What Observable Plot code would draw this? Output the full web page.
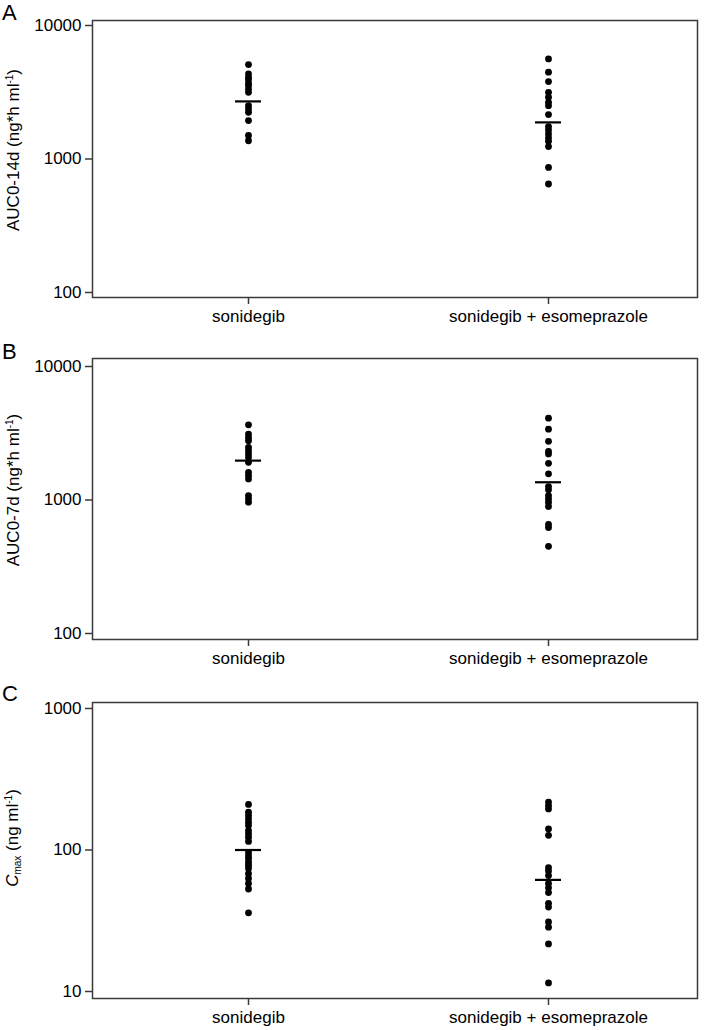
<!DOCTYPE html>
<html><head><meta charset="utf-8">
<script src="https://cdn.jsdelivr.net/npm/d3@7"></script>
<script src="https://cdn.jsdelivr.net/npm/@observablehq/plot@0.6"></script>
<style>
body{margin:0;background:#fff;font-family:"Liberation Sans",Arial,sans-serif;color:#000;}
#fig{position:relative;width:709px;height:1030px;overflow:hidden;}
.panel{position:absolute;left:0;}
.letter{position:absolute;left:2px;font-size:22px;line-height:1;}
.ylab{position:absolute;left:13px;transform:translate(-50%,-50%) rotate(-90deg);white-space:nowrap;font-size:17px;line-height:1;}
.ylab sup{font-size:10px;vertical-align:6px;}
.ylab sub{font-size:10px;vertical-align:-3px;}
</style>
</head><body>
<div id="fig"></div>
<script>
const categories = ["sonidegib", "sonidegib + esomeprazole"];

// Panel A: AUC0-14d (ng*h/ml)
const aSon = [5100, 4340, 4090, 3915, 3690, 3550, 3350, 3160, 2510, 2370, 2240, 1940, 1500, 1370];
const aEso = [5620, 4470, 3800, 3160, 2900, 2660, 2510, 2150, 1750, 1650, 1540, 1440, 1360, 1240, 865, 650];
const aMed = [2700, 1880];
const aTicks = [100, 1000, 10000];

// Panel B: AUC0-7d (ng*h/ml)
const bSon = [3655, 3120, 2943, 2780, 2478, 2340, 2212, 2085, 1915, 1611, 1524, 1439, 1080, 1021, 963];
const bEso = [4100, 3395, 2750, 2313, 2212, 1883, 1570, 1261, 1192, 1080, 1021, 963, 894, 656, 621, 450];
const bMed = [1972, 1358];
const bTicks = [100, 1000, 10000];

// Panel C: Cmax (ng/ml)
const cSon = [210, 185, 175, 166, 157, 149, 137, 130, 123, 115, 96, 91, 87, 82, 78, 74, 68, 63, 58, 53, 36];
const cEso = [218, 206, 195, 141, 127, 75, 71, 66, 58, 54, 50, 42, 39.5, 31, 28.5, 21.7, 11.5];
const cMed = [100, 61.5];
const cTicks = [10, 100, 1000];

const fig = document.getElementById("fig");

function panel({son, eso, med, ticks, top, inner, insetTop, insetBottom, letter, letterTop, labelHTML, labelY}) {
  const pts = [...son.map(v => ({g: categories[0], v})), ...eso.map(v => ({g: categories[1], v}))];
  const meds = med.map((v, i) => ({g: categories[i], v}));
  const marginTop = 20, marginBottom = 32;
  const chart = Plot.plot({
    width: 709, height: marginTop + inner + marginBottom,
    marginLeft: 92, marginRight: 12, marginTop, marginBottom,
    style: {fontSize: "17px", fontFamily: "'Liberation Sans', Arial, sans-serif", color: "#000", background: "#fff", overflow: "visible"},
    x: {type: "band", domain: categories, paddingInner: 0.9136, paddingOuter: 0, insetLeft: 142, insetRight: 136, label: null},
    y: {type: "log", domain: [ticks[0], ticks[ticks.length - 1]], insetTop, insetBottom, label: null},
    marks: [
      Plot.frame({stroke: "#3a3a3a", strokeWidth: 1.5}),
      Plot.axisY({ticks, tickFormat: d => String(d), tickSize: 7, tickPadding: 4, label: null, stroke: "#3a3a3a", strokeWidth: 1.5}),
      Plot.axisX({tickSize: 7, tickPadding: 5, label: null, stroke: "#3a3a3a", strokeWidth: 1.5}),
      Plot.dot(pts, {x: "g", y: "v", r: 3.4, fill: "#000"}),
      Plot.tickY(meds, {x: "g", y: "v", stroke: "#000", strokeWidth: 2.2})
    ]
  });
  const wrap = document.createElement("div");
  wrap.className = "panel";
  wrap.style.top = top + "px";
  wrap.appendChild(chart);
  fig.appendChild(wrap);
  const L = document.createElement("div");
  L.className = "letter"; L.textContent = letter; L.style.top = letterTop + "px";
  fig.appendChild(L);
  const Y = document.createElement("div");
  Y.className = "ylab"; Y.innerHTML = labelHTML; Y.style.top = labelY + "px";
  fig.appendChild(Y);
}

panel({son: aSon, eso: aEso, med: aMed, ticks: aTicks, top: 0, inner: 277, insetTop: 5, insetBottom: 5,
  letter: "A", letterTop: 2, labelHTML: "AUC0-14d (ng*h ml<sup>-1</sup>)", labelY: 150});
panel({son: bSon, eso: bEso, med: bMed, ticks: bTicks, top: 338, inner: 281, insetTop: 8, insetBottom: 6,
  letter: "B", letterTop: 341, labelHTML: "AUC0-7d (ng*h ml<sup>-1</sup>)", labelY: 490});
panel({son: cSon, eso: cEso, med: cMed, ticks: cTicks, top: 682, inner: 296, insetTop: 6, insetBottom: 7,
  letter: "C", letterTop: 683, labelHTML: "<i>C</i><sub>max</sub> (ng ml<sup>-1</sup>)", labelY: 838});
</script>
</body></html>
